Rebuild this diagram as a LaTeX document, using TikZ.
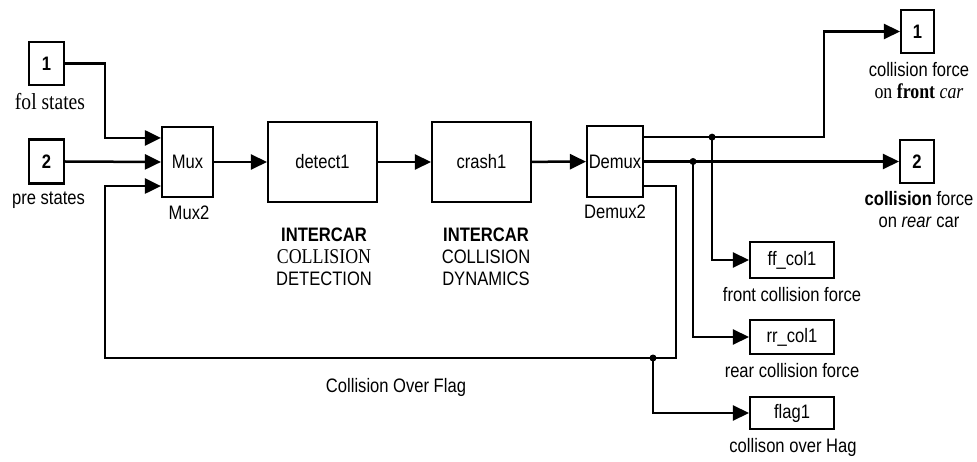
\documentclass[tikz,border=0pt]{standalone}
\usepackage{fontspec}
\setmainfont{Liberation Sans}[FakeStretch=0.85]
\newfontfamily\timesfont{Liberation Serif}[FakeStretch=0.85]
\usetikzlibrary{arrows.meta, calc}

\begin{document}
\begin{tikzpicture}[x=1pt, y=-1pt, line width=2.5pt, >={Triangle[length=16pt, width=15pt]},
    font=\fontsize{19.5}{22}\selectfont,
    block/.style={rectangle, draw, line width=2.1pt, inner sep=0pt},
    lbl/.style={inner sep=0pt, align=center},
    dot/.style={circle, fill, inner sep=0pt, minimum size=7pt}]
    \useasboundingbox (0,0) rectangle (977,462);

    % Inports
    \node (in1) [block, minimum width=35pt, minimum height=43pt] at (46.5,63.5) {\bfseries 1};
    \node (in2) [block, minimum width=35pt, minimum height=44pt] at (46.5,161.5) {\bfseries 2};
    \node (in1 lbl) [lbl] at (50,102) {\timesfont\fontsize{23}{22}\selectfont fol states};
    \node (in2 lbl) [lbl] at (48.5,200) {pre states};

    % Blocks
    \node (mux) [block, minimum width=51pt, minimum height=70pt] at (187.5,162) {Mux};
    \node (detect) [block, minimum width=109pt, minimum height=80pt] at (322.5,162) {detect1};
    \node (crash) [block, minimum width=99pt, minimum height=80pt] at (481.5,162) {crash1};
    \node (demux) [block, minimum width=56pt, minimum height=71pt] at (615,161.5) {Demux};
    \node (mux lbl) [lbl] at (189,213) {Mux2};
    \node (demux lbl) [lbl] at (615,212) {Demux2};
    \node (detect lbl) [lbl] at (324,257) {\bfseries INTERCAR\\{\timesfont\fontsize{21}{22}\selectfont COLLISION}\\DETECTION};
    \node (crash lbl) [lbl] at (486,257) {\bfseries INTERCAR\\COLLISION\\DYNAMICS};

    % Outports
    \node (out1) [block, minimum width=33pt, minimum height=43pt] at (917.5,31.5) {\bfseries 1};
    \node (out2) [block, minimum width=34pt, minimum height=43pt] at (917,161.5) {\bfseries 2};
    \node (out1 lbl) [lbl] at (919,81) {collision force\\{\timesfont\fontsize{21}{22}\selectfont on \textbf{front} \textit{car}}};
    \node (out2 lbl) [lbl] at (919,210) {\textbf{collision} force\\on \textit{rear} car};
    \node (ff) [block, minimum width=84pt, minimum height=36pt] at (792,260) {ff\_col1};
    \node (rr) [block, minimum width=84pt, minimum height=34pt] at (792,337) {rr\_col1};
    \node (flag) [block, minimum width=84pt, minimum height=32pt] at (792,413) {flag1};
    \node (ff lbl) [lbl] at (792,295) {front collision force};
    \node (rr lbl) [lbl] at (792,371) {rear collision force};
    \node (flag lbl) [lbl] at (793,447) {collison over Hag};
    \node (fb lbl) [lbl] at (396,387) {Collision Over Flag};

    % Ports and junctions
    \coordinate (mux in1) at ($(mux.north west)!1/6!(mux.south west)$);
    \coordinate (mux in2) at (mux.west);
    \coordinate (mux in3) at ($(mux.north west)!5/6!(mux.south west)$);
    \coordinate (dmx out1) at ($(demux.north east)!1/6!(demux.south east)$);
    \coordinate (dmx out2) at (demux.east);
    \coordinate (dmx out3) at ($(demux.north east)!5/6!(demux.south east)$);
    \coordinate (jf) at ($(dmx out1)+(68,0)$);
    \coordinate (jr) at ($(dmx out2)+(49,0)$);
    \coordinate (fb) at (653,358);

    % Forward path
    \draw[->] (in1.east) -| ([xshift=-56pt]mux in1) -- (mux in1);
    \draw[->] (in2.east) -- (mux in2);
    \draw[->] (mux) -- (detect);
    \draw[->] (detect) -- (crash);
    \draw[->] (crash) -- (demux);

    % Outputs
    \draw[->] (dmx out1) -| ([xshift=-76pt]out1.west) -- (out1.west);
    \draw[->] (dmx out2) -- (out2.west);
    \draw[->] (jf) |- (ff.west);
    \draw[->] (jr) |- (rr.west);
    \draw[->] (fb) |- (flag.west);

    % Feedback
    \draw[->] (dmx out3) -- ++(32,0) |- (fb) -| ([xshift=-56pt]mux in3) -- (mux in3);

    \node (jf dot) [dot] at (jf) {};
    \node (jr dot) [dot] at (jr) {};
    \node (fb dot) [dot] at (fb) {};
\end{tikzpicture}
\end{document}
